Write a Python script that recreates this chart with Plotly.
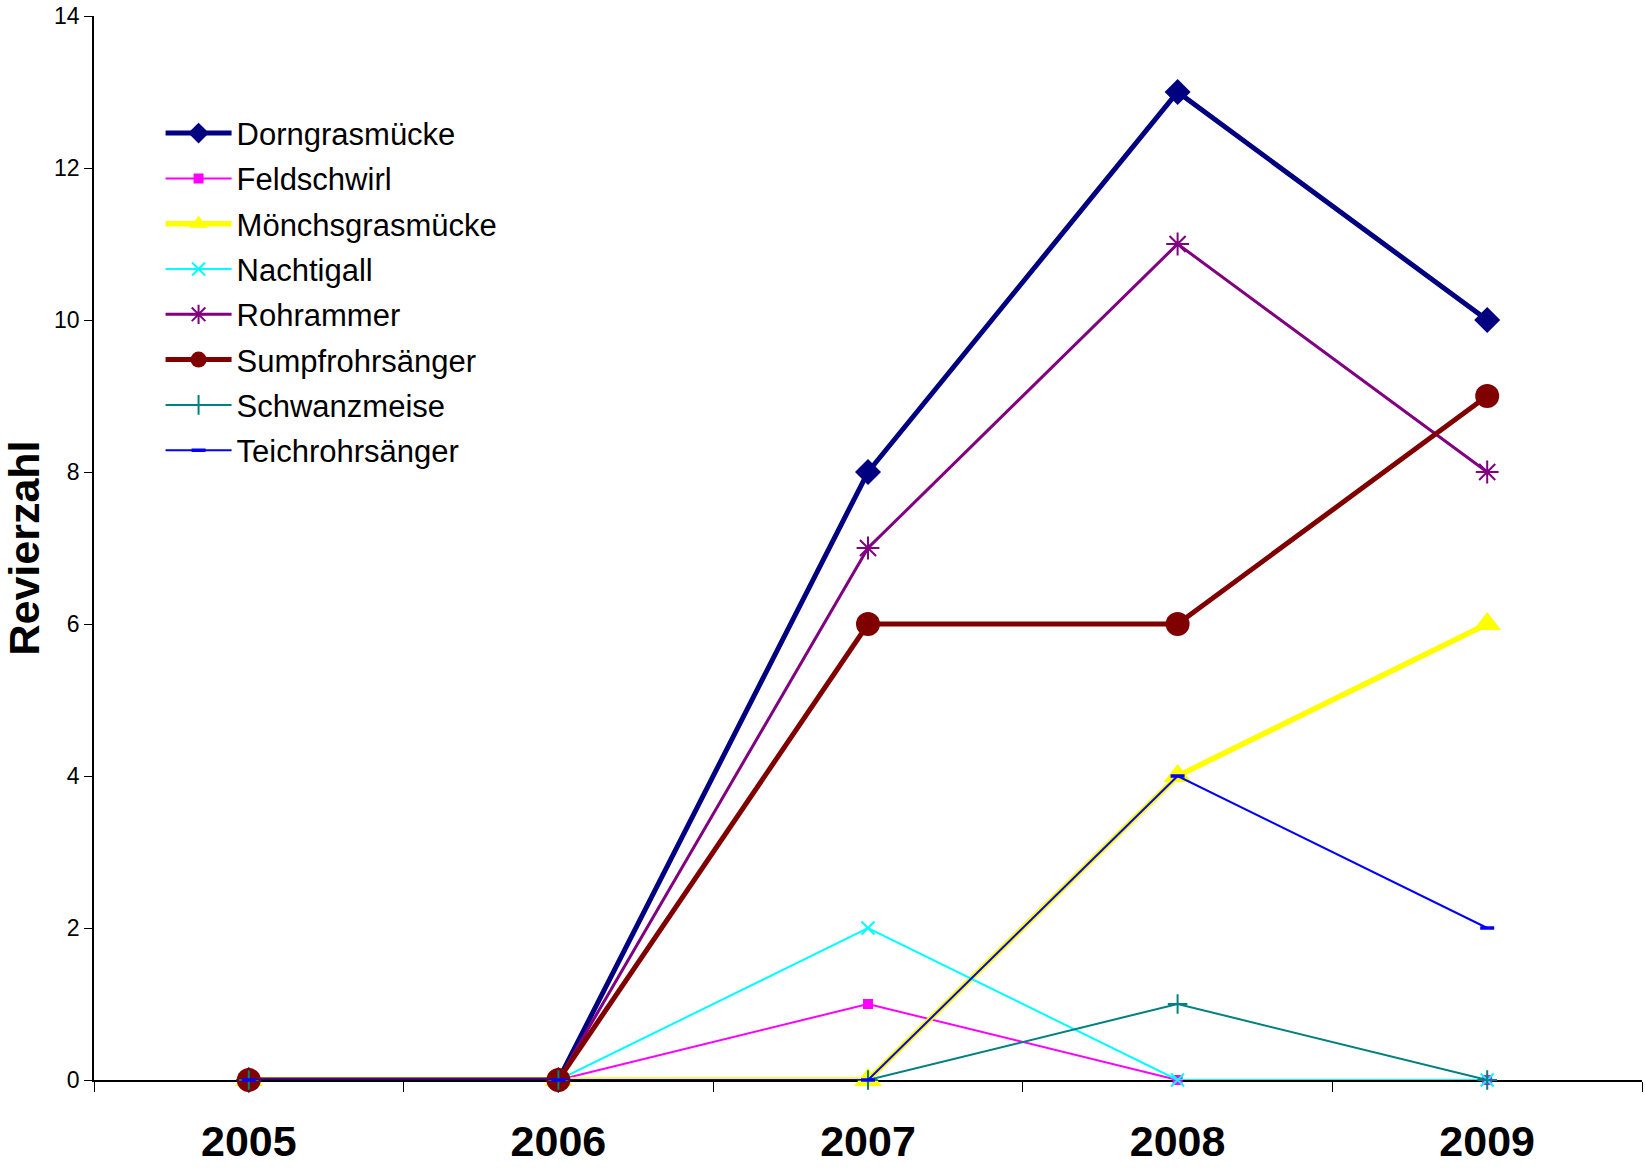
import plotly.graph_objects as go

years = ["2005", "2006", "2007", "2008", "2009"]
species = ["Dorngrasmücke", "Feldschwirl", "Mönchsgrasmücke", "Nachtigall",
           "Rohrammer", "Sumpfrohrsänger", "Schwanzmeise", "Teichrohrsänger"]
dorngrasmuecke = [0, 0, 8, 13, 10]
feldschwirl = [0, 0, 1, 0, 0]
moenchsgrasmuecke = [0, 0, 0, 4, 6]
nachtigall = [0, 0, 2, 0, 0]
rohrammer = [0, 0, 7, 11, 8]
sumpfrohrsaenger = [0, 0, 6, 6, 9]
schwanzmeise = [0, 0, 0, 1, 0]
teichrohrsaenger = [0, 0, 0, 4, 2]
y_ticks = [0, 2, 4, 6, 8, 10, 12, 14]

values = [dorngrasmuecke, feldschwirl, moenchsgrasmuecke, nachtigall,
          rohrammer, sumpfrohrsaenger, schwanzmeise, teichrohrsaenger]

styles = [
    dict(color="#000080", width=5, symbol="diamond", size=20, mlw=0),
    dict(color="#FF00FF", width=2, symbol="square", size=10, mlw=0),
    dict(color="#FFFF00", width=5.5, symbol="triangle-up", size=24, mlw=0),
    dict(color="#00FFFF", width=2, symbol="x-thin", size=13, mlw=2),
    dict(color="#800080", width=3, symbol="asterisk", size=19, mlw=2),
    dict(color="#800000", width=5, symbol="circle", size=24, mlw=0),
    dict(color="#008080", width=2, symbol="cross-thin", size=14, mlw=2),
    dict(color="#0000FF", width=2, symbol="line-ew", size=10, mlw=3.5),
]

fig = go.Figure()
for i, (name, vals, st) in enumerate(zip(species, values, styles)):
    fig.add_trace(go.Scatter(
        x=years, y=vals, name=name, mode="lines+markers",
        legendgroup=f"g{i}",
        line=dict(color=st["color"], width=st["width"]),
        marker=dict(symbol=st["symbol"], size=st["size"], color=st["color"],
                    line=dict(color=st["color"], width=st["mlw"])),
        cliponaxis=False,
    ))

fig.update_layout(
    width=1645, height=1168,
    paper_bgcolor="white", plot_bgcolor="white",
    margin=dict(l=94, r=3, t=16, b=88),
    font=dict(family="Liberation Sans, Arial, sans-serif", color="black"),
    legend=dict(
        x=0.043, y=0.915, xanchor="left", yanchor="top",
        font=dict(size=31, color="black"),
        itemwidth=66, tracegroupgap=2,
        bgcolor="rgba(0,0,0,0)",
    ),
    xaxis=dict(
        type="category", range=[-0.5, 4.5], automargin=False,
        showline=True, linecolor="black", linewidth=2,
        ticks="outside", tickson="boundaries", ticklen=10, tickcolor="black", tickwidth=1,
        tickfont=dict(size=43, family="Liberation Sans, Arial, sans-serif", weight="bold"),
        showgrid=False, zeroline=False, layer="below traces",
        ticklabelstandoff=22, ticklabeloverflow="allow",
    ),
    yaxis=dict(
        range=[0, 14], tickvals=y_ticks, automargin=False,
        showline=True, linecolor="black", linewidth=1.5,
        ticks="outside", ticklen=8, tickcolor="black", tickwidth=1,
        tickfont=dict(size=23), ticklabeloverflow="allow",
        showgrid=False, zeroline=False,
        title=dict(text="<b>Revierzahl</b>", font=dict(size=43), standoff=3),
    ),
)

fig.write_html("out.html", config={"displayModeBar": False},
               post_script="document.body.style.margin='0';")
